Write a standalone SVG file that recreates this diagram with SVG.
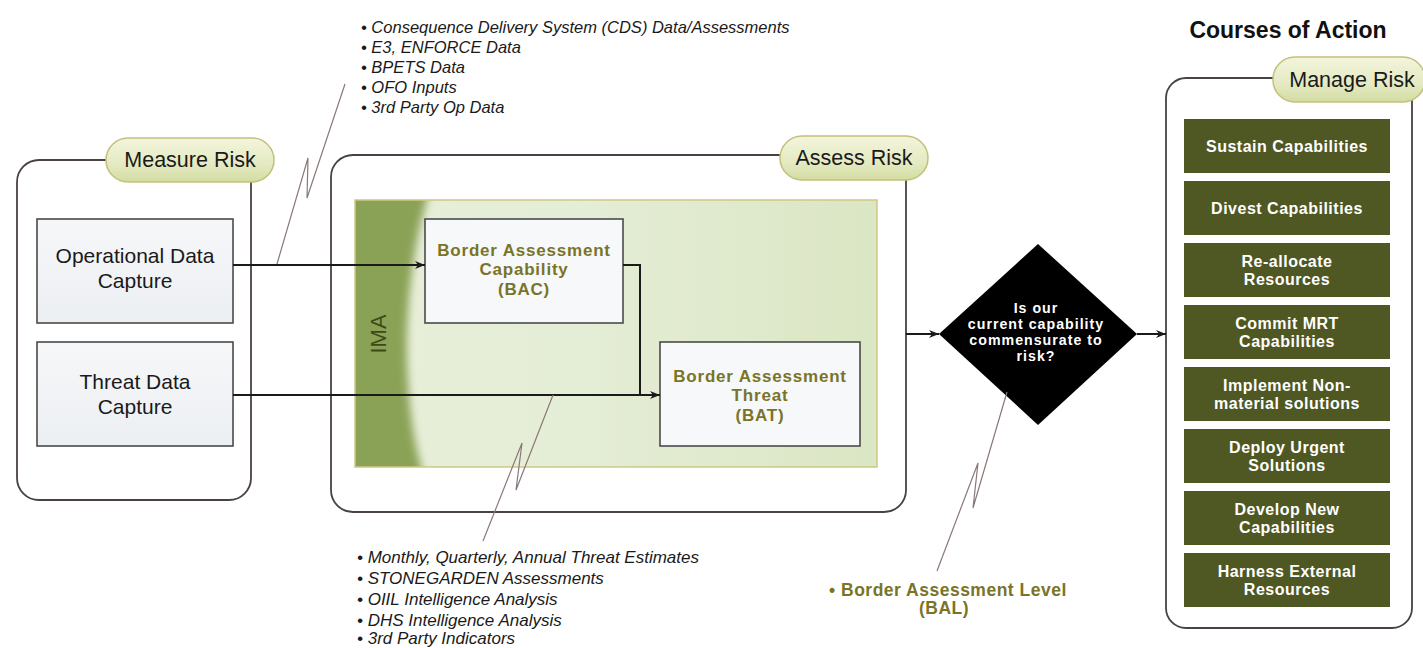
<svg xmlns="http://www.w3.org/2000/svg" width="1423" height="648" viewBox="0 0 1423 648">
<defs>
<style>
text{font-family:"Liberation Sans",Arial,sans-serif}
.cont{fill:none;stroke:#4a4242;stroke-width:1.8}
.pill{fill:url(#pillG);stroke:#c3c07c;stroke-width:1.5}
.pillt{font-size:21.5px;fill:#1a1a1a;text-anchor:middle}
.box{fill:url(#boxG);stroke:#4a4a4a;stroke-width:1.6}
.boxt{font-size:21px;fill:#1a1a1a;text-anchor:middle}
.olive{font-size:17px;font-weight:bold;fill:#7a7428;text-anchor:middle;letter-spacing:0.8px}
.coa{fill:#4f5823}
.coat{font-size:16px;font-weight:bold;fill:#ffffff;text-anchor:middle;letter-spacing:0.5px}
.dt{font-size:14.2px;font-weight:bold;fill:#ffffff;text-anchor:middle;letter-spacing:1px}
.bul{font-size:16.5px;font-style:italic;fill:#1a1a1a}
.bulb{font-size:17px;font-style:italic;fill:#1a1a1a}
.conn{fill:none;stroke:#1a1a1a;stroke-width:2}
.bolt{fill:none;stroke:#8a7878;stroke-width:1.2}
</style>
<linearGradient id="pillG" x1="0" y1="0" x2="0" y2="1">
<stop offset="0" stop-color="#f3f5dc"/>
<stop offset="0.6" stop-color="#e4eac2"/>
<stop offset="1" stop-color="#d3dca2"/>
</linearGradient>
<linearGradient id="boxG" x1="0" y1="0" x2="0" y2="1">
<stop offset="0" stop-color="#f6f7f9"/>
<stop offset="1" stop-color="#eceff2"/>
</linearGradient>
<linearGradient id="greenG" x1="355" y1="0" x2="877" y2="0" gradientUnits="userSpaceOnUse">
<stop offset="0" stop-color="#e8efda"/>
<stop offset="0.45" stop-color="#e4edd5"/>
<stop offset="1" stop-color="#dbe6c4"/>
</linearGradient>
<clipPath id="greenClip"><rect x="355" y="200" width="522" height="267"/></clipPath>
<filter id="blur" x="-0.5" y="-0.1" width="2" height="1.2"><feGaussianBlur stdDeviation="4"/></filter>
<marker id="arr" viewBox="0 0 10 10" refX="10" refY="5" markerWidth="10" markerHeight="10" markerUnits="userSpaceOnUse" orient="auto">
<path d="M0,1 L10,5 L0,9 L3,5 Z" fill="#1a1a1a"/>
</marker>
</defs>
<rect width="1423" height="648" fill="#ffffff"/>

<g id="measure-risk">
<rect class="cont" x="17" y="160" width="234" height="340" rx="22"/>
<rect class="pill" x="106" y="138" width="168" height="44" rx="22"/>
<text class="pillt" x="190" y="167">Measure Risk</text>
</g>

<g id="operational-data-capture">
<rect class="box" x="37" y="219" width="196" height="104"/>
<text class="boxt" x="135" y="263">Operational Data</text>
<text class="boxt" x="135" y="288">Capture</text>
</g>

<g id="threat-data-capture">
<rect class="box" x="37" y="342" width="196" height="104"/>
<text class="boxt" x="135" y="389">Threat Data</text>
<text class="boxt" x="135" y="414">Capture</text>
</g>

<g id="assess-risk">
<rect class="cont" x="331" y="155" width="575" height="357" rx="22"/>
<rect class="pill" x="780" y="136" width="148" height="44" rx="22"/>
<text class="pillt" x="854" y="165">Assess Risk</text>
</g>

<g id="ima">
<rect x="355" y="200" width="522" height="267" fill="url(#greenG)"/>
<g clip-path="url(#greenClip)">
<path d="M345,190 L430,190 C410,250 404,330 408,380 C410,420 416,450 424,477 L345,477 Z" fill="#8aa257" filter="url(#blur)"/>
</g>
<rect x="355" y="200" width="522" height="267" fill="none" stroke="#cdc985" stroke-width="1.5"/>
<text x="0" y="0" transform="translate(386,334) rotate(-90)" style="font-size:22px;fill:#3f4a1a;text-anchor:middle">IMA</text>
</g>

<g id="bac">
<rect class="box" x="425" y="219" width="198" height="104" style="fill:#f7f8fa"/>
<text class="olive" x="524" y="256">Border Assessment</text>
<text class="olive" x="524" y="275">Capability</text>
<text class="olive" x="524" y="295">(BAC)</text>
</g>

<g id="bat">
<rect class="box" x="660" y="342" width="200" height="104" style="fill:#f7f8fa"/>
<text class="olive" x="760" y="382">Border Assessment</text>
<text class="olive" x="760" y="401">Threat</text>
<text class="olive" x="760" y="421">(BAT)</text>
</g>

<g id="decision">
<polygon points="1038,244 1137,334 1038,425 939,334" fill="#000000"/>
<text class="dt" x="1036" y="313">Is our</text>
<text class="dt" x="1036" y="329">current capability</text>
<text class="dt" x="1036" y="345">commensurate to</text>
<text class="dt" x="1036" y="361">risk?</text>
</g>

<g id="courses-of-action">
<text x="1288" y="38" style="font-size:23px;font-weight:bold;fill:#111;text-anchor:middle">Courses of Action</text>
</g>

<g id="manage-risk">
<rect class="cont" x="1166" y="78" width="246" height="550" rx="20"/>
<rect class="pill" x="1273" y="57" width="152" height="45" rx="22"/>
<text class="pillt" x="1352" y="87">Manage Risk</text>
</g>

<g id="coa-sustain"><rect class="coa" x="1184" y="119" width="206" height="54"/><text class="coat" x="1287" y="152">Sustain Capabilities</text></g>
<g id="coa-divest"><rect class="coa" x="1184" y="181" width="206" height="54"/><text class="coat" x="1287" y="214">Divest Capabilities</text></g>
<g id="coa-reallocate"><rect class="coa" x="1184" y="243" width="206" height="54"/><text class="coat" x="1287" y="267">Re-allocate</text><text class="coat" x="1287" y="285">Resources</text></g>
<g id="coa-commit"><rect class="coa" x="1184" y="305" width="206" height="54"/><text class="coat" x="1287" y="329">Commit MRT</text><text class="coat" x="1287" y="347">Capabilities</text></g>
<g id="coa-implement"><rect class="coa" x="1184" y="367" width="206" height="54"/><text class="coat" x="1287" y="391">Implement Non-</text><text class="coat" x="1287" y="409">material solutions</text></g>
<g id="coa-deploy"><rect class="coa" x="1184" y="429" width="206" height="54"/><text class="coat" x="1287" y="453">Deploy Urgent</text><text class="coat" x="1287" y="471">Solutions</text></g>
<g id="coa-develop"><rect class="coa" x="1184" y="491" width="206" height="54"/><text class="coat" x="1287" y="515">Develop New</text><text class="coat" x="1287" y="533">Capabilities</text></g>
<g id="coa-harness"><rect class="coa" x="1184" y="553" width="206" height="54"/><text class="coat" x="1287" y="577">Harness External</text><text class="coat" x="1287" y="595">Resources</text></g>

<g id="notes-top">
<text class="bul" x="361" y="33">• Consequence Delivery System (CDS) Data/Assessments</text>
<text class="bul" x="361" y="53">• E3, ENFORCE Data</text>
<text class="bul" x="361" y="73">• BPETS Data</text>
<text class="bul" x="361" y="93">• OFO Inputs</text>
<text class="bul" x="361" y="113">• 3rd Party Op Data</text>
</g>

<g id="notes-bottom">
<text class="bulb" x="357" y="563">• Monthly, Quarterly, Annual Threat Estimates</text>
<text class="bulb" x="357" y="584">• STONEGARDEN Assessments</text>
<text class="bulb" x="357" y="605">• OIIL Intelligence Analysis</text>
<text class="bulb" x="357" y="626">• DHS Intelligence Analysis</text>
<text class="bulb" x="357" y="644">• 3rd Party Indicators</text>
</g>

<g id="bal">
<text class="olive" x="829" y="596" style="text-anchor:start;font-size:17.5px;letter-spacing:0.5px">• Border Assessment Level</text>
<text class="olive" x="944" y="614" style="font-size:17.5px;letter-spacing:0.5px">(BAL)</text>
</g>

<g id="connectors">
<path class="conn" d="M233,265 H425" marker-end="url(#arr)"/>
<path class="conn" d="M233,395 H660" marker-end="url(#arr)"/>
<path class="conn" d="M623,265 H640 V395"/>
<path class="conn" d="M906,334 H939" marker-end="url(#arr)"/>
<path class="conn" d="M1137,334 H1166" marker-end="url(#arr)"/>
<path class="bolt" d="M277,264 L308,158 L307,198 L345,84"/>
<path class="bolt" d="M553,395 L516,490 L522,443 L483,541"/>
<path class="bolt" d="M1007,392 L973,508 L978,463 L937,571"/>
</g>
</svg>
